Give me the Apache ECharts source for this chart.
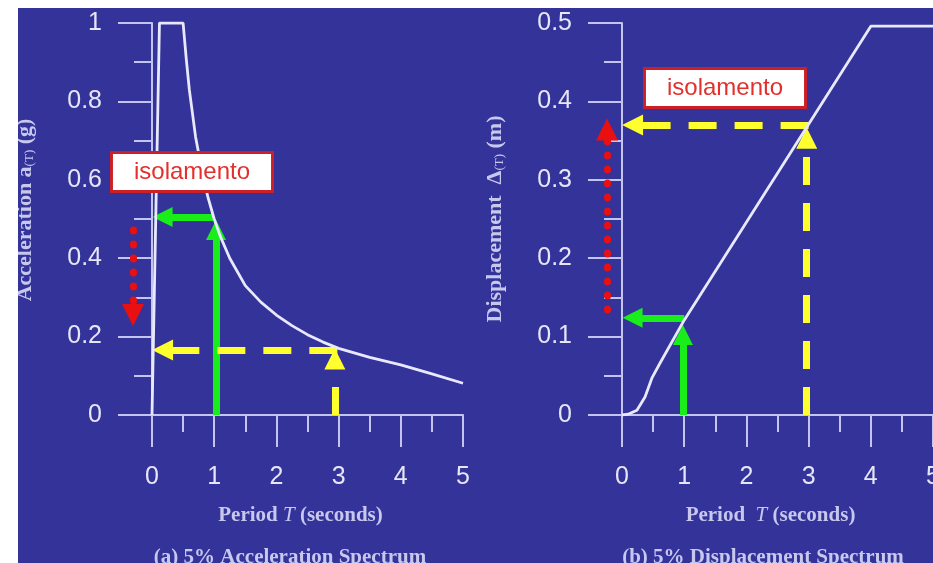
<!DOCTYPE html>
<html><head><meta charset="utf-8">
<script src="https://cdn.jsdelivr.net/npm/echarts@6/dist/echarts.min.js"></script>
<style>
html,body{margin:0;padding:0;background:#fff;width:933px;height:563px;overflow:hidden;}
#c{position:absolute;left:18px;top:8px;width:915px;height:555px;}
</style></head><body><div id="c"></div>
<script>
// ---- data ----
const periodTicks = [0, 1, 2, 3, 4, 5];
const accelTicks = [0, 0.2, 0.4, 0.6, 0.8, 1];
const dispTicks = [0, 0.1, 0.2, 0.3, 0.4, 0.5];

const periodA = [0, 0.12, 0.5, 0.55, 0.6, 0.65, 0.7, 0.8, 0.9, 1.0, 1.1, 1.25, 1.5, 1.75, 2.0, 2.25, 2.5, 2.75, 3.0, 3.5, 4.0, 4.5, 5.0];
const accel   = [0, 1.0, 1.0, 0.91, 0.83, 0.77, 0.71, 0.625, 0.555, 0.5, 0.455, 0.4, 0.33, 0.288, 0.255, 0.228, 0.205, 0.186, 0.17, 0.147, 0.128, 0.105, 0.081];

const periodD = [0, 0.1, 0.24, 0.37, 0.48, 0.61, 1.0, 2.0, 3.0, 4.0, 5.0];
const disp    = [0, 0.001, 0.006, 0.023, 0.047, 0.066, 0.121, 0.246, 0.371, 0.496, 0.496];

// annotation arrows, tail -> head
const greenArrowsA  = [[[0.98, 0.505], [0.17, 0.505]], [[1.03, 0], [1.03, 0.472]]];
const yellowArrowsA = [[[2.98, 0.166], [0.17, 0.166]], [[2.94, 0], [2.94, 0.143]]];
const redArrowsA    = [[[-0.305, 0.472], [-0.305, 0.255]]];

const greenArrowsD  = [[[1.0, 0.124], [0.17, 0.124]], [[0.98, 0], [0.98, 0.102]]];
const yellowArrowsD = [[[3.0, 0.37], [0.17, 0.37]], [[2.97, 0], [2.97, 0.353]]];
const redArrowsD    = [[[-0.24, 0.134], [-0.24, 0.364]]];

const boxText = 'isolamento';
const boxA = [0.643, 0.62];
const boxD = [1.656, 0.417];

const xName = ['Period ', 'T', ' (seconds)'];
const yNameA = ['Acceleration a', '(T)', ' (g)'];
const yNameD = ['Displacement  \u0394', '(T)', ' (m)'];
const subTitles = ['(a) 5% Acceleration Spectrum', '(b) 5% Displacement Spectrum'];

// ---- styling ----
const BG = '#33339a';
const AX = '#c4c4f0';
const LBL = '#e6e6f8';
const TTL = '#c8c8ee';
const SANS = '"Liberation Sans", Arial, sans-serif';
const SERIF = '"Liberation Serif", "Times New Roman", serif';

function xAxisOpt(gi, extraSpace) {
  return {
    type: 'value', gridIndex: gi,
    min: periodTicks[0], max: periodTicks[periodTicks.length - 1],
    interval: periodTicks[1] - periodTicks[0],
    axisLine: { onZero: false, lineStyle: { color: AX, width: 2 } },
    axisTick: { length: 32, lineStyle: { color: AX, width: 2 } },
    minorTick: { show: true, splitNumber: 2, length: 17, lineStyle: { color: AX, width: 2 } },
    splitLine: { show: false },
    axisLabel: { margin: 50, fontSize: 25, color: LBL, fontFamily: SANS, hideOverlap: false },
    name: '{b|' + xName[0] + (extraSpace ? ' ' : '') + '}{t|' + xName[1] + '}{b|' + xName[2] + '}',
    nameLocation: 'middle', nameGap: 90,
    nameTextStyle: {
      padding: [0, 14, 0, 0],
      rich: {
        b: { fontFamily: SERIF, fontWeight: 'bold', fontSize: 21, color: TTL },
        t: { fontFamily: SERIF, fontStyle: 'italic', fontSize: 21, color: TTL }
      }
    }
  };
}
function yAxisOpt(gi, ticks, nm, pad) {
  return {
    type: 'value', gridIndex: gi,
    min: ticks[0], max: ticks[ticks.length - 1], interval: ticks[1] - ticks[0],
    axisLine: { onZero: false, lineStyle: { color: AX, width: 2 } },
    axisTick: { length: 34, lineStyle: { color: AX, width: 2 } },
    minorTick: { show: true, splitNumber: 2, length: 18, lineStyle: { color: AX, width: 2 } },
    splitLine: { show: false },
    axisLabel: { margin: 50, fontSize: 25, color: LBL, fontFamily: SANS },
    name: '{b|' + nm[0] + '}{s|' + nm[1] + '}{b|' + nm[2] + '}',
    nameLocation: 'middle', nameRotate: 90, nameGap: 116,
    nameTextStyle: {
      padding: pad,
      rich: {
        b: { fontFamily: SERIF, fontWeight: 'bold', fontSize: 22, color: TTL },
        s: { fontFamily: SERIF, fontSize: 13, color: TTL, verticalAlign: 'bottom', padding: [9, 0, 0, 0] }
      }
    }
  };
}
function arrows(gi, arr, color, lineType, width, size, cap) {
  return {
    type: 'lines', coordinateSystem: 'cartesian2d', xAxisIndex: gi, yAxisIndex: gi,
    clip: false, z: 3, silent: true,
    symbol: ['none', 'triangle'], symbolSize: size,
    lineStyle: { color: color, width: width, type: lineType, opacity: 1, cap: cap || 'butt' },
    data: arr.map(c => ({ coords: c }))
  };
}
function curve(gi, xs, ys) {
  return {
    type: 'line', xAxisIndex: gi, yAxisIndex: gi, z: 4, silent: true,
    showSymbol: false, symbol: 'none',
    lineStyle: { color: '#e8e8ff', width: 2.8 },
    data: xs.map((x, i) => [x, ys[i]])
  };
}
function box(gi, p) {
  return {
    type: 'scatter', xAxisIndex: gi, yAxisIndex: gi, z: 6, silent: true,
    symbolSize: 1, itemStyle: { color: 'rgba(0,0,0,0)', opacity: 1 },
    label: {
      show: true, position: 'inside', formatter: boxText, opacity: 1,
      fontFamily: SANS, fontSize: 24, lineHeight: 26, color: '#e2302c',
      backgroundColor: '#ffffff', borderColor: '#cc1f26', borderWidth: 3,
      padding: [5, 21, 5, 21]
    },
    data: [p]
  };
}

const gridBase = { width: 311, height: 392, top: 15, outerBoundsMode: 'none', containLabel: false };
const chart = echarts.init(document.getElementById('c'));
chart.setOption({
  animation: false,
  backgroundColor: BG,
  title: [
    { text: subTitles[0], left: 272, top: 539, textAlign: 'center', padding: 0,
      textStyle: { fontFamily: SERIF, fontWeight: 'bold', fontSize: 21, color: TTL } },
    { text: subTitles[1], left: 745, top: 539, textAlign: 'center', padding: 0,
      textStyle: { fontFamily: SERIF, fontWeight: 'bold', fontSize: 21, color: TTL } }
  ],
  grid: [
    Object.assign({ left: 134 }, gridBase),
    Object.assign({ left: 604 }, gridBase)
  ],
  xAxis: [xAxisOpt(0, false), xAxisOpt(1, true)],
  yAxis: [yAxisOpt(0, accelTicks, yNameA, [0, 0, 0, 18]), yAxisOpt(1, dispTicks, yNameD, 0)],
  series: [
    arrows(0, greenArrowsA, '#1aee1a', 'solid', 7, 20),
    arrows(0, yellowArrowsA, '#ffff2e', [28, 18], 7, 21),
    arrows(0, redArrowsA, '#e81010', [1, 13], 7, 22, 'round'),
    curve(0, periodA, accel),
    box(0, boxA),
    arrows(1, greenArrowsD, '#1aee1a', 'solid', 7, 20),
    arrows(1, yellowArrowsD, '#ffff2e', [28, 18], 7, 21),
    arrows(1, redArrowsD, '#e81010', [1, 13], 7, 22, 'round'),
    curve(1, periodD, disp),
    box(1, boxD)
  ]
});
</script></body></html>
